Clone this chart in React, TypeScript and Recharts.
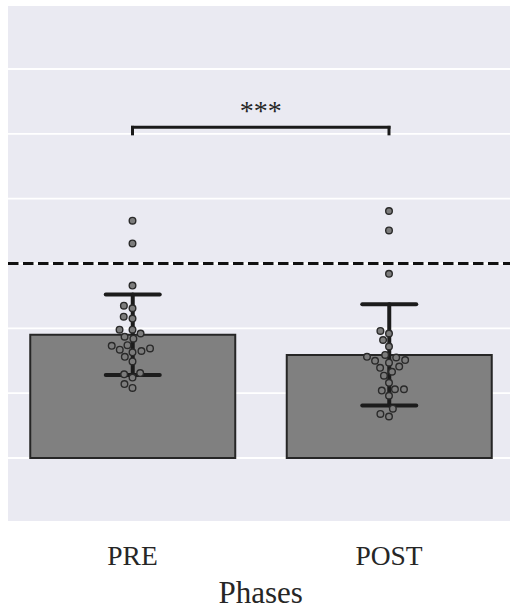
import React from 'react';
import {
  ComposedChart,
  Bar,
  ErrorBar,
  Scatter,
  XAxis,
  YAxis,
  CartesianGrid,
  ReferenceLine,
  ReferenceDot,
} from 'recharts';

// ---------- data ----------
const categories = ['PRE', 'POST'];
const meanValues = [1.9, 1.59];
const sdValues = [0.62, 0.78];
const preValues = [
  1.08, 1.14, 1.24, 1.29, 1.31, 1.49, 1.56, 1.63, 1.65, 1.67, 1.69, 1.73, 1.74,
  1.84, 1.87, 1.92, 1.98, 1.98, 2.15, 2.18, 2.31, 2.35, 2.66, 3.31, 3.66,
];
const postValues = [
  0.64, 0.68, 0.76, 0.96, 1.04, 1.06, 1.06, 1.16, 1.27, 1.33, 1.39, 1.41, 1.47,
  1.5, 1.51, 1.55, 1.56, 1.59, 1.72, 1.82, 1.92, 1.96, 2.84, 3.51, 3.81,
];
const yTicks = [0, 1, 2, 3, 4, 5, 6];
const thresholdValue = 3;
const bracketTop = 5.1;
const bracketBottom = 5.0;
const significanceText = '***';
const xAxisTitle = 'Phases';

// ---------- layout ----------
const W = 510;
const H = 607;
const M = { top: 6, right: 0, left: 8, bottom: 0 };
const X_AXIS_H = 86;
const Y_DOMAIN: [number, number] = [-0.972, 6.972];
const PAD = { left: -3.75, right: -7.25 };
const plotW = W - M.left - M.right;
const plotH = H - M.top - M.bottom - X_AXIS_H;
const bandPx = (plotW - PAD.left - PAD.right) / categories.length;
const pxPerY = plotH / (Y_DOMAIN[1] - Y_DOMAIN[0]);
const R = 4.3; // swarm collision radius (px)
const FONT = '"Liberation Serif", "Times New Roman", serif';
const TEXT = '#262626';

// seaborn-like beeswarm, offsets in px from the category centre
function swarmOffsets(values: number[]): number[] {
  const order = values.map((_, i) => i).sort((a, b) => values[a] - values[b]);
  const placed: { x: number; y: number }[] = [];
  const out = new Array(values.length).fill(0);
  for (const idx of order) {
    const y = values[idx] * pxPerY;
    const neighbors = placed.filter((p) => y - p.y < 2 * R);
    const cands: number[] = [0];
    let leftFirst = true;
    for (const n of neighbors) {
      const dy = y - n.y;
      const dx = Math.sqrt(Math.max(4 * R * R - dy * dy, 0)) * 1.05;
      if (leftFirst) cands.push(n.x - dx, n.x + dx);
      else cands.push(n.x + dx, n.x - dx);
      leftFirst = !leftFirst;
    }
    const sorted = cands
      .map((c, i) => ({ c, i }))
      .sort((a, b) => Math.abs(a.c) - Math.abs(b.c) || a.i - b.i);
    let chosen = sorted[sorted.length - 1].c;
    for (const { c } of sorted) {
      if (
        neighbors.every(
          (n) => (c - n.x) * (c - n.x) + (y - n.y) * (y - n.y) >= 4 * R * R - 1e-9
        )
      ) {
        chosen = c;
        break;
      }
    }
    placed.push({ x: chosen, y });
    out[idx] = chosen;
  }
  return out;
}

const barData = categories.map((name, i) => ({
  name,
  mean: meanValues[i],
  sd: sdValues[i],
}));

const groups = [preValues, postValues];
const swarmData = groups.flatMap((vals, gi) => {
  const offs = swarmOffsets(vals);
  return vals.map((v, i) => ({ sx: gi + offs[i] / bandPx, sy: v }));
});

const CatTick = (props: any) => (
  <text
    x={props.x}
    y={props.y + 44}
    textAnchor="middle"
    fontFamily={FONT}
    fontSize={27.5}
    fill={TEXT}
  >
    {props.payload.value}
  </text>
);

const AxisTitle = (props: any) => {
  const vb = props.viewBox || { x: M.left, y: H - X_AXIS_H, width: plotW };
  const cx = vb.x + PAD.left + (vb.width - PAD.left - PAD.right) / 2;
  return (
    <text
      x={cx}
      y={vb.y + 82}
      textAnchor="middle"
      fontFamily={FONT}
      fontSize={31}
      fill={TEXT}
    >
      {xAxisTitle}
    </text>
  );
};

const SigLabel = (props: any) => {
  const vb = props.viewBox || { x: 0, y: 0, width: 0, height: 0 };
  const cx = vb.x + (vb.width || 0) / 2;
  const cy = vb.y + (vb.height || 0) / 2;
  return (
    <text
      x={cx}
      y={cy - 7}
      textAnchor="middle"
      fontFamily={FONT}
      fontSize={28}
      fill={TEXT}
    >
      {significanceText}
    </text>
  );
};

const Dot = (p: any) => (
  <circle
    cx={p.cx}
    cy={p.cy}
    r={3.3}
    fill="#7c7c7c"
    stroke="#2a2a2a"
    strokeWidth={1.4}
  />
);

export default function App() {
  return (
    <div style={{ position: 'absolute', left: 0, top: 0, width: W, height: H }}>
      <ComposedChart width={W} height={H} data={barData} margin={M}>
        <CartesianGrid
          vertical={false}
          horizontal={true}
          horizontalValues={yTicks}
          stroke="#ffffff"
          strokeWidth={1.8}
          fill="#EAEAF2"
          fillOpacity={1}
        />
        <XAxis
          dataKey="name"
          type="category"
          height={X_AXIS_H}
          padding={PAD}
          axisLine={false}
          tickLine={false}
          tickSize={0}
          tickMargin={0}
          tick={<CatTick />}
          interval={0}
          label={AxisTitle}
        />
        <XAxis
          xAxisId="num"
          dataKey="sx"
          type="number"
          domain={[-0.5, 1.5]}
          padding={PAD}
          allowDataOverflow
          hide
        />
        <YAxis
          dataKey="sy"
          type="number"
          domain={Y_DOMAIN}
          ticks={yTicks}
          allowDataOverflow
          hide
        />
        <ReferenceLine
          y={thresholdValue}
          stroke="#111111"
          strokeWidth={3}
          strokeDasharray="10.5 4.5"
        />
        <Bar
          dataKey="mean"
          fill="#808080"
          stroke="#262626"
          strokeWidth={2}
          barSize={205}
          isAnimationActive={false}
        >
          <ErrorBar
            dataKey="sd"
            width={27}
            stroke="#1c1c1c"
            strokeWidth={4}
            strokeLinecap="round"
          />
        </Bar>
        <Scatter
          xAxisId="num"
          data={swarmData}
          shape={Dot}
          isAnimationActive={false}
        />
        <ReferenceLine
          xAxisId="num"
          segment={[
            { x: 0, y: bracketTop },
            { x: 1, y: bracketTop },
          ]}
          stroke="#1a1a1a"
          strokeWidth={3}
          strokeLinecap="square"
        />
        <ReferenceLine
          xAxisId="num"
          segment={[
            { x: 0, y: bracketBottom },
            { x: 0, y: bracketTop },
          ]}
          stroke="#1a1a1a"
          strokeWidth={3}
          strokeLinecap="square"
        />
        <ReferenceLine
          xAxisId="num"
          segment={[
            { x: 1, y: bracketBottom },
            { x: 1, y: bracketTop },
          ]}
          stroke="#1a1a1a"
          strokeWidth={3}
          strokeLinecap="square"
        />
        <ReferenceDot
          xAxisId="num"
          x={0.5}
          y={bracketTop}
          r={1}
          fill="none"
          stroke="none"
          label={SigLabel}
        />
      </ComposedChart>
    </div>
  );
}
